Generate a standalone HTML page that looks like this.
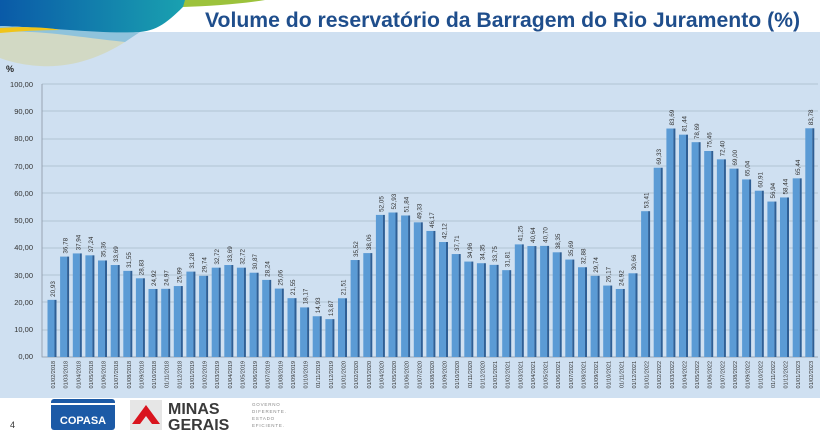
<!DOCTYPE html>
<html><head><meta charset="utf-8"><style>
html,body{margin:0;padding:0;width:825px;height:434px;overflow:hidden;background:#fff;font-family:"Liberation Sans",sans-serif}
</style></head><body>
<svg width="825" height="434" viewBox="0 0 825 434" xmlns="http://www.w3.org/2000/svg" font-family="Liberation Sans, sans-serif">
<defs>
<linearGradient id="wv" x1="0" x2="1" y1="0" y2="0"><stop offset="0" stop-color="#0a5aa8"/><stop offset="1" stop-color="#1aa3b0"/></linearGradient>
</defs>
<rect x="0" y="0" width="825" height="434" fill="#fff"/>
<rect x="0" y="32" width="820" height="366" fill="#cfe0f1"/>
<path d="M0,0 H190 C170,20 160,30 140,32 C100,36 60,28 0,26 Z" fill="url(#wv)"/>
<path d="M0,26 C60,28 100,34 140,32 L125,42 C90,44 50,36 0,32 Z" fill="#8fc3dc"/>
<path d="M0,32 C40,30 70,36 125,42 C100,58 70,68 40,66 C20,65 5,60 0,58 Z" fill="#d2d9c4"/>
<path d="M0,28 C30,26 50,28 60,30 C40,30 20,31 0,33 Z" fill="#f0c419"/>
<path d="M185,0 H265 C240,4 210,6 183,7 Z" fill="#9cc23c"/>
<text x="205" y="27" font-size="21.2" font-weight="bold" fill="#1f4e8c" textLength="595" lengthAdjust="spacingAndGlyphs">Volume do reservatório da Barragem do Rio Juramento (%)</text>
<text x="6" y="72" font-size="9" font-weight="bold" fill="#222">%</text>
<g font-size="7.5" fill="#333" text-anchor="end">
<text x="33" y="87">100,00</text><text x="33" y="114">90,00</text><text x="33" y="141">80,00</text><text x="33" y="169">70,00</text><text x="33" y="196">60,00</text><text x="33" y="223">50,00</text><text x="33" y="250">40,00</text><text x="33" y="278">30,00</text><text x="33" y="305">20,00</text><text x="33" y="332">10,00</text><text x="33" y="359">0,00</text>
</g>
<g stroke="#a9b9c9" stroke-width="0.8" fill="none">
<path d="M42,84H818M42,111H818M42,139H818M42,166H818M42,193H818M42,221H818M42,248H818M42,275H818M42,302H818M42,330H818"/>
<path d="M42,84V357H818" stroke="#8a97a5"/>
</g>
<g font-size="6.3" fill="#333">
<g transform="translate(47.5,357) scale(1,2.73)"><rect y="-20.93" width="7" height="20.93" fill="#5b9bd5"/><rect x="7" y="-20.93" width="2" height="20.93" fill="#2f5f95"/><g transform="translate(0,-20.93) scale(1,.3663)"><text transform="translate(7.5,-3) rotate(-90)">20,93</text></g><g transform="scale(1,.3663)"><text transform="translate(7.5,4) rotate(-90)" text-anchor="end" font-size="5.5">01/02/2018</text></g></g>
<g transform="translate(60.1,357) scale(1,2.73)"><rect y="-36.78" width="7" height="36.78" fill="#5b9bd5"/><rect x="7" y="-36.78" width="2" height="36.78" fill="#2f5f95"/><g transform="translate(0,-36.78) scale(1,.3663)"><text transform="translate(7.5,-3) rotate(-90)">36,78</text></g><g transform="scale(1,.3663)"><text transform="translate(7.5,4) rotate(-90)" text-anchor="end" font-size="5.5">01/03/2018</text></g></g>
<g transform="translate(72.8,357) scale(1,2.73)"><rect y="-37.94" width="7" height="37.94" fill="#5b9bd5"/><rect x="7" y="-37.94" width="2" height="37.94" fill="#2f5f95"/><g transform="translate(0,-37.94) scale(1,.3663)"><text transform="translate(7.5,-3) rotate(-90)">37,94</text></g><g transform="scale(1,.3663)"><text transform="translate(7.5,4) rotate(-90)" text-anchor="end" font-size="5.5">01/04/2018</text></g></g>
<g transform="translate(85.4,357) scale(1,2.73)"><rect y="-37.24" width="7" height="37.24" fill="#5b9bd5"/><rect x="7" y="-37.24" width="2" height="37.24" fill="#2f5f95"/><g transform="translate(0,-37.24) scale(1,.3663)"><text transform="translate(7.5,-3) rotate(-90)">37,24</text></g><g transform="scale(1,.3663)"><text transform="translate(7.5,4) rotate(-90)" text-anchor="end" font-size="5.5">01/05/2018</text></g></g>
<g transform="translate(98.0,357) scale(1,2.73)"><rect y="-35.36" width="7" height="35.36" fill="#5b9bd5"/><rect x="7" y="-35.36" width="2" height="35.36" fill="#2f5f95"/><g transform="translate(0,-35.36) scale(1,.3663)"><text transform="translate(7.5,-3) rotate(-90)">35,36</text></g><g transform="scale(1,.3663)"><text transform="translate(7.5,4) rotate(-90)" text-anchor="end" font-size="5.5">01/06/2018</text></g></g>
<g transform="translate(110.7,357) scale(1,2.73)"><rect y="-33.69" width="7" height="33.69" fill="#5b9bd5"/><rect x="7" y="-33.69" width="2" height="33.69" fill="#2f5f95"/><g transform="translate(0,-33.69) scale(1,.3663)"><text transform="translate(7.5,-3) rotate(-90)">33,69</text></g><g transform="scale(1,.3663)"><text transform="translate(7.5,4) rotate(-90)" text-anchor="end" font-size="5.5">01/07/2018</text></g></g>
<g transform="translate(123.3,357) scale(1,2.73)"><rect y="-31.55" width="7" height="31.55" fill="#5b9bd5"/><rect x="7" y="-31.55" width="2" height="31.55" fill="#2f5f95"/><g transform="translate(0,-31.55) scale(1,.3663)"><text transform="translate(7.5,-3) rotate(-90)">31,55</text></g><g transform="scale(1,.3663)"><text transform="translate(7.5,4) rotate(-90)" text-anchor="end" font-size="5.5">01/08/2018</text></g></g>
<g transform="translate(135.9,357) scale(1,2.73)"><rect y="-28.83" width="7" height="28.83" fill="#5b9bd5"/><rect x="7" y="-28.83" width="2" height="28.83" fill="#2f5f95"/><g transform="translate(0,-28.83) scale(1,.3663)"><text transform="translate(7.5,-3) rotate(-90)">28,83</text></g><g transform="scale(1,.3663)"><text transform="translate(7.5,4) rotate(-90)" text-anchor="end" font-size="5.5">01/09/2018</text></g></g>
<g transform="translate(148.5,357) scale(1,2.73)"><rect y="-24.92" width="7" height="24.92" fill="#5b9bd5"/><rect x="7" y="-24.92" width="2" height="24.92" fill="#2f5f95"/><g transform="translate(0,-24.92) scale(1,.3663)"><text transform="translate(7.5,-3) rotate(-90)">24,92</text></g><g transform="scale(1,.3663)"><text transform="translate(7.5,4) rotate(-90)" text-anchor="end" font-size="5.5">01/10/2018</text></g></g>
<g transform="translate(161.2,357) scale(1,2.73)"><rect y="-24.97" width="7" height="24.97" fill="#5b9bd5"/><rect x="7" y="-24.97" width="2" height="24.97" fill="#2f5f95"/><g transform="translate(0,-24.97) scale(1,.3663)"><text transform="translate(7.5,-3) rotate(-90)">24,97</text></g><g transform="scale(1,.3663)"><text transform="translate(7.5,4) rotate(-90)" text-anchor="end" font-size="5.5">01/11/2018</text></g></g>
<g transform="translate(173.8,357) scale(1,2.73)"><rect y="-25.99" width="7" height="25.99" fill="#5b9bd5"/><rect x="7" y="-25.99" width="2" height="25.99" fill="#2f5f95"/><g transform="translate(0,-25.99) scale(1,.3663)"><text transform="translate(7.5,-3) rotate(-90)">25,99</text></g><g transform="scale(1,.3663)"><text transform="translate(7.5,4) rotate(-90)" text-anchor="end" font-size="5.5">01/12/2018</text></g></g>
<g transform="translate(186.4,357) scale(1,2.73)"><rect y="-31.28" width="7" height="31.28" fill="#5b9bd5"/><rect x="7" y="-31.28" width="2" height="31.28" fill="#2f5f95"/><g transform="translate(0,-31.28) scale(1,.3663)"><text transform="translate(7.5,-3) rotate(-90)">31,28</text></g><g transform="scale(1,.3663)"><text transform="translate(7.5,4) rotate(-90)" text-anchor="end" font-size="5.5">01/01/2019</text></g></g>
<g transform="translate(199.1,357) scale(1,2.73)"><rect y="-29.74" width="7" height="29.74" fill="#5b9bd5"/><rect x="7" y="-29.74" width="2" height="29.74" fill="#2f5f95"/><g transform="translate(0,-29.74) scale(1,.3663)"><text transform="translate(7.5,-3) rotate(-90)">29,74</text></g><g transform="scale(1,.3663)"><text transform="translate(7.5,4) rotate(-90)" text-anchor="end" font-size="5.5">01/02/2019</text></g></g>
<g transform="translate(211.7,357) scale(1,2.73)"><rect y="-32.72" width="7" height="32.72" fill="#5b9bd5"/><rect x="7" y="-32.72" width="2" height="32.72" fill="#2f5f95"/><g transform="translate(0,-32.72) scale(1,.3663)"><text transform="translate(7.5,-3) rotate(-90)">32,72</text></g><g transform="scale(1,.3663)"><text transform="translate(7.5,4) rotate(-90)" text-anchor="end" font-size="5.5">01/03/2019</text></g></g>
<g transform="translate(224.3,357) scale(1,2.73)"><rect y="-33.69" width="7" height="33.69" fill="#5b9bd5"/><rect x="7" y="-33.69" width="2" height="33.69" fill="#2f5f95"/><g transform="translate(0,-33.69) scale(1,.3663)"><text transform="translate(7.5,-3) rotate(-90)">33,69</text></g><g transform="scale(1,.3663)"><text transform="translate(7.5,4) rotate(-90)" text-anchor="end" font-size="5.5">01/04/2019</text></g></g>
<g transform="translate(236.9,357) scale(1,2.73)"><rect y="-32.72" width="7" height="32.72" fill="#5b9bd5"/><rect x="7" y="-32.72" width="2" height="32.72" fill="#2f5f95"/><g transform="translate(0,-32.72) scale(1,.3663)"><text transform="translate(7.5,-3) rotate(-90)">32,72</text></g><g transform="scale(1,.3663)"><text transform="translate(7.5,4) rotate(-90)" text-anchor="end" font-size="5.5">01/05/2019</text></g></g>
<g transform="translate(249.6,357) scale(1,2.73)"><rect y="-30.87" width="7" height="30.87" fill="#5b9bd5"/><rect x="7" y="-30.87" width="2" height="30.87" fill="#2f5f95"/><g transform="translate(0,-30.87) scale(1,.3663)"><text transform="translate(7.5,-3) rotate(-90)">30,87</text></g><g transform="scale(1,.3663)"><text transform="translate(7.5,4) rotate(-90)" text-anchor="end" font-size="5.5">01/06/2019</text></g></g>
<g transform="translate(262.2,357) scale(1,2.73)"><rect y="-28.24" width="7" height="28.24" fill="#5b9bd5"/><rect x="7" y="-28.24" width="2" height="28.24" fill="#2f5f95"/><g transform="translate(0,-28.24) scale(1,.3663)"><text transform="translate(7.5,-3) rotate(-90)">28,24</text></g><g transform="scale(1,.3663)"><text transform="translate(7.5,4) rotate(-90)" text-anchor="end" font-size="5.5">01/07/2019</text></g></g>
<g transform="translate(274.8,357) scale(1,2.73)"><rect y="-25.06" width="7" height="25.06" fill="#5b9bd5"/><rect x="7" y="-25.06" width="2" height="25.06" fill="#2f5f95"/><g transform="translate(0,-25.06) scale(1,.3663)"><text transform="translate(7.5,-3) rotate(-90)">25,06</text></g><g transform="scale(1,.3663)"><text transform="translate(7.5,4) rotate(-90)" text-anchor="end" font-size="5.5">01/08/2019</text></g></g>
<g transform="translate(287.5,357) scale(1,2.73)"><rect y="-21.55" width="7" height="21.55" fill="#5b9bd5"/><rect x="7" y="-21.55" width="2" height="21.55" fill="#2f5f95"/><g transform="translate(0,-21.55) scale(1,.3663)"><text transform="translate(7.5,-3) rotate(-90)">21,55</text></g><g transform="scale(1,.3663)"><text transform="translate(7.5,4) rotate(-90)" text-anchor="end" font-size="5.5">01/09/2019</text></g></g>
<g transform="translate(300.1,357) scale(1,2.73)"><rect y="-18.17" width="7" height="18.17" fill="#5b9bd5"/><rect x="7" y="-18.17" width="2" height="18.17" fill="#2f5f95"/><g transform="translate(0,-18.17) scale(1,.3663)"><text transform="translate(7.5,-3) rotate(-90)">18,17</text></g><g transform="scale(1,.3663)"><text transform="translate(7.5,4) rotate(-90)" text-anchor="end" font-size="5.5">01/10/2019</text></g></g>
<g transform="translate(312.7,357) scale(1,2.73)"><rect y="-14.93" width="7" height="14.93" fill="#5b9bd5"/><rect x="7" y="-14.93" width="2" height="14.93" fill="#2f5f95"/><g transform="translate(0,-14.93) scale(1,.3663)"><text transform="translate(7.5,-3) rotate(-90)">14,93</text></g><g transform="scale(1,.3663)"><text transform="translate(7.5,4) rotate(-90)" text-anchor="end" font-size="5.5">01/11/2019</text></g></g>
<g transform="translate(325.4,357) scale(1,2.73)"><rect y="-13.87" width="7" height="13.87" fill="#5b9bd5"/><rect x="7" y="-13.87" width="2" height="13.87" fill="#2f5f95"/><g transform="translate(0,-13.87) scale(1,.3663)"><text transform="translate(7.5,-3) rotate(-90)">13,87</text></g><g transform="scale(1,.3663)"><text transform="translate(7.5,4) rotate(-90)" text-anchor="end" font-size="5.5">01/12/2019</text></g></g>
<g transform="translate(338.0,357) scale(1,2.73)"><rect y="-21.51" width="7" height="21.51" fill="#5b9bd5"/><rect x="7" y="-21.51" width="2" height="21.51" fill="#2f5f95"/><g transform="translate(0,-21.51) scale(1,.3663)"><text transform="translate(7.5,-3) rotate(-90)">21,51</text></g><g transform="scale(1,.3663)"><text transform="translate(7.5,4) rotate(-90)" text-anchor="end" font-size="5.5">01/01/2020</text></g></g>
<g transform="translate(350.6,357) scale(1,2.73)"><rect y="-35.52" width="7" height="35.52" fill="#5b9bd5"/><rect x="7" y="-35.52" width="2" height="35.52" fill="#2f5f95"/><g transform="translate(0,-35.52) scale(1,.3663)"><text transform="translate(7.5,-3) rotate(-90)">35,52</text></g><g transform="scale(1,.3663)"><text transform="translate(7.5,4) rotate(-90)" text-anchor="end" font-size="5.5">01/02/2020</text></g></g>
<g transform="translate(363.3,357) scale(1,2.73)"><rect y="-38.06" width="7" height="38.06" fill="#5b9bd5"/><rect x="7" y="-38.06" width="2" height="38.06" fill="#2f5f95"/><g transform="translate(0,-38.06) scale(1,.3663)"><text transform="translate(7.5,-3) rotate(-90)">38,06</text></g><g transform="scale(1,.3663)"><text transform="translate(7.5,4) rotate(-90)" text-anchor="end" font-size="5.5">01/03/2020</text></g></g>
<g transform="translate(375.9,357) scale(1,2.73)"><rect y="-52.05" width="7" height="52.05" fill="#5b9bd5"/><rect x="7" y="-52.05" width="2" height="52.05" fill="#2f5f95"/><g transform="translate(0,-52.05) scale(1,.3663)"><text transform="translate(7.5,-3) rotate(-90)">52,05</text></g><g transform="scale(1,.3663)"><text transform="translate(7.5,4) rotate(-90)" text-anchor="end" font-size="5.5">01/04/2020</text></g></g>
<g transform="translate(388.5,357) scale(1,2.73)"><rect y="-52.93" width="7" height="52.93" fill="#5b9bd5"/><rect x="7" y="-52.93" width="2" height="52.93" fill="#2f5f95"/><g transform="translate(0,-52.93) scale(1,.3663)"><text transform="translate(7.5,-3) rotate(-90)">52,93</text></g><g transform="scale(1,.3663)"><text transform="translate(7.5,4) rotate(-90)" text-anchor="end" font-size="5.5">01/05/2020</text></g></g>
<g transform="translate(401.1,357) scale(1,2.73)"><rect y="-51.84" width="7" height="51.84" fill="#5b9bd5"/><rect x="7" y="-51.84" width="2" height="51.84" fill="#2f5f95"/><g transform="translate(0,-51.84) scale(1,.3663)"><text transform="translate(7.5,-3) rotate(-90)">51,84</text></g><g transform="scale(1,.3663)"><text transform="translate(7.5,4) rotate(-90)" text-anchor="end" font-size="5.5">01/06/2020</text></g></g>
<g transform="translate(413.8,357) scale(1,2.73)"><rect y="-49.33" width="7" height="49.33" fill="#5b9bd5"/><rect x="7" y="-49.33" width="2" height="49.33" fill="#2f5f95"/><g transform="translate(0,-49.33) scale(1,.3663)"><text transform="translate(7.5,-3) rotate(-90)">49,33</text></g><g transform="scale(1,.3663)"><text transform="translate(7.5,4) rotate(-90)" text-anchor="end" font-size="5.5">01/07/2020</text></g></g>
<g transform="translate(426.4,357) scale(1,2.73)"><rect y="-46.17" width="7" height="46.17" fill="#5b9bd5"/><rect x="7" y="-46.17" width="2" height="46.17" fill="#2f5f95"/><g transform="translate(0,-46.17) scale(1,.3663)"><text transform="translate(7.5,-3) rotate(-90)">46,17</text></g><g transform="scale(1,.3663)"><text transform="translate(7.5,4) rotate(-90)" text-anchor="end" font-size="5.5">01/08/2020</text></g></g>
<g transform="translate(439.0,357) scale(1,2.73)"><rect y="-42.12" width="7" height="42.12" fill="#5b9bd5"/><rect x="7" y="-42.12" width="2" height="42.12" fill="#2f5f95"/><g transform="translate(0,-42.12) scale(1,.3663)"><text transform="translate(7.5,-3) rotate(-90)">42,12</text></g><g transform="scale(1,.3663)"><text transform="translate(7.5,4) rotate(-90)" text-anchor="end" font-size="5.5">01/09/2020</text></g></g>
<g transform="translate(451.7,357) scale(1,2.73)"><rect y="-37.71" width="7" height="37.71" fill="#5b9bd5"/><rect x="7" y="-37.71" width="2" height="37.71" fill="#2f5f95"/><g transform="translate(0,-37.71) scale(1,.3663)"><text transform="translate(7.5,-3) rotate(-90)">37,71</text></g><g transform="scale(1,.3663)"><text transform="translate(7.5,4) rotate(-90)" text-anchor="end" font-size="5.5">01/10/2020</text></g></g>
<g transform="translate(464.3,357) scale(1,2.73)"><rect y="-34.96" width="7" height="34.96" fill="#5b9bd5"/><rect x="7" y="-34.96" width="2" height="34.96" fill="#2f5f95"/><g transform="translate(0,-34.96) scale(1,.3663)"><text transform="translate(7.5,-3) rotate(-90)">34,96</text></g><g transform="scale(1,.3663)"><text transform="translate(7.5,4) rotate(-90)" text-anchor="end" font-size="5.5">01/11/2020</text></g></g>
<g transform="translate(476.9,357) scale(1,2.73)"><rect y="-34.35" width="7" height="34.35" fill="#5b9bd5"/><rect x="7" y="-34.35" width="2" height="34.35" fill="#2f5f95"/><g transform="translate(0,-34.35) scale(1,.3663)"><text transform="translate(7.5,-3) rotate(-90)">34,35</text></g><g transform="scale(1,.3663)"><text transform="translate(7.5,4) rotate(-90)" text-anchor="end" font-size="5.5">01/12/2020</text></g></g>
<g transform="translate(489.6,357) scale(1,2.73)"><rect y="-33.75" width="7" height="33.75" fill="#5b9bd5"/><rect x="7" y="-33.75" width="2" height="33.75" fill="#2f5f95"/><g transform="translate(0,-33.75) scale(1,.3663)"><text transform="translate(7.5,-3) rotate(-90)">33,75</text></g><g transform="scale(1,.3663)"><text transform="translate(7.5,4) rotate(-90)" text-anchor="end" font-size="5.5">01/01/2021</text></g></g>
<g transform="translate(502.2,357) scale(1,2.73)"><rect y="-31.81" width="7" height="31.81" fill="#5b9bd5"/><rect x="7" y="-31.81" width="2" height="31.81" fill="#2f5f95"/><g transform="translate(0,-31.81) scale(1,.3663)"><text transform="translate(7.5,-3) rotate(-90)">31,81</text></g><g transform="scale(1,.3663)"><text transform="translate(7.5,4) rotate(-90)" text-anchor="end" font-size="5.5">01/02/2021</text></g></g>
<g transform="translate(514.8,357) scale(1,2.73)"><rect y="-41.25" width="7" height="41.25" fill="#5b9bd5"/><rect x="7" y="-41.25" width="2" height="41.25" fill="#2f5f95"/><g transform="translate(0,-41.25) scale(1,.3663)"><text transform="translate(7.5,-3) rotate(-90)">41,25</text></g><g transform="scale(1,.3663)"><text transform="translate(7.5,4) rotate(-90)" text-anchor="end" font-size="5.5">01/03/2021</text></g></g>
<g transform="translate(527.4,357) scale(1,2.73)"><rect y="-40.64" width="7" height="40.64" fill="#5b9bd5"/><rect x="7" y="-40.64" width="2" height="40.64" fill="#2f5f95"/><g transform="translate(0,-40.64) scale(1,.3663)"><text transform="translate(7.5,-3) rotate(-90)">40,64</text></g><g transform="scale(1,.3663)"><text transform="translate(7.5,4) rotate(-90)" text-anchor="end" font-size="5.5">01/04/2021</text></g></g>
<g transform="translate(540.1,357) scale(1,2.73)"><rect y="-40.70" width="7" height="40.70" fill="#5b9bd5"/><rect x="7" y="-40.70" width="2" height="40.70" fill="#2f5f95"/><g transform="translate(0,-40.70) scale(1,.3663)"><text transform="translate(7.5,-3) rotate(-90)">40,70</text></g><g transform="scale(1,.3663)"><text transform="translate(7.5,4) rotate(-90)" text-anchor="end" font-size="5.5">01/05/2021</text></g></g>
<g transform="translate(552.7,357) scale(1,2.73)"><rect y="-38.35" width="7" height="38.35" fill="#5b9bd5"/><rect x="7" y="-38.35" width="2" height="38.35" fill="#2f5f95"/><g transform="translate(0,-38.35) scale(1,.3663)"><text transform="translate(7.5,-3) rotate(-90)">38,35</text></g><g transform="scale(1,.3663)"><text transform="translate(7.5,4) rotate(-90)" text-anchor="end" font-size="5.5">01/06/2021</text></g></g>
<g transform="translate(565.3,357) scale(1,2.73)"><rect y="-35.69" width="7" height="35.69" fill="#5b9bd5"/><rect x="7" y="-35.69" width="2" height="35.69" fill="#2f5f95"/><g transform="translate(0,-35.69) scale(1,.3663)"><text transform="translate(7.5,-3) rotate(-90)">35,69</text></g><g transform="scale(1,.3663)"><text transform="translate(7.5,4) rotate(-90)" text-anchor="end" font-size="5.5">01/07/2021</text></g></g>
<g transform="translate(578.0,357) scale(1,2.73)"><rect y="-32.88" width="7" height="32.88" fill="#5b9bd5"/><rect x="7" y="-32.88" width="2" height="32.88" fill="#2f5f95"/><g transform="translate(0,-32.88) scale(1,.3663)"><text transform="translate(7.5,-3) rotate(-90)">32,88</text></g><g transform="scale(1,.3663)"><text transform="translate(7.5,4) rotate(-90)" text-anchor="end" font-size="5.5">01/08/2021</text></g></g>
<g transform="translate(590.6,357) scale(1,2.73)"><rect y="-29.74" width="7" height="29.74" fill="#5b9bd5"/><rect x="7" y="-29.74" width="2" height="29.74" fill="#2f5f95"/><g transform="translate(0,-29.74) scale(1,.3663)"><text transform="translate(7.5,-3) rotate(-90)">29,74</text></g><g transform="scale(1,.3663)"><text transform="translate(7.5,4) rotate(-90)" text-anchor="end" font-size="5.5">01/09/2021</text></g></g>
<g transform="translate(603.2,357) scale(1,2.73)"><rect y="-26.17" width="7" height="26.17" fill="#5b9bd5"/><rect x="7" y="-26.17" width="2" height="26.17" fill="#2f5f95"/><g transform="translate(0,-26.17) scale(1,.3663)"><text transform="translate(7.5,-3) rotate(-90)">26,17</text></g><g transform="scale(1,.3663)"><text transform="translate(7.5,4) rotate(-90)" text-anchor="end" font-size="5.5">01/10/2021</text></g></g>
<g transform="translate(615.8,357) scale(1,2.73)"><rect y="-24.92" width="7" height="24.92" fill="#5b9bd5"/><rect x="7" y="-24.92" width="2" height="24.92" fill="#2f5f95"/><g transform="translate(0,-24.92) scale(1,.3663)"><text transform="translate(7.5,-3) rotate(-90)">24,92</text></g><g transform="scale(1,.3663)"><text transform="translate(7.5,4) rotate(-90)" text-anchor="end" font-size="5.5">01/11/2021</text></g></g>
<g transform="translate(628.5,357) scale(1,2.73)"><rect y="-30.66" width="7" height="30.66" fill="#5b9bd5"/><rect x="7" y="-30.66" width="2" height="30.66" fill="#2f5f95"/><g transform="translate(0,-30.66) scale(1,.3663)"><text transform="translate(7.5,-3) rotate(-90)">30,66</text></g><g transform="scale(1,.3663)"><text transform="translate(7.5,4) rotate(-90)" text-anchor="end" font-size="5.5">01/12/2021</text></g></g>
<g transform="translate(641.1,357) scale(1,2.73)"><rect y="-53.41" width="7" height="53.41" fill="#5b9bd5"/><rect x="7" y="-53.41" width="2" height="53.41" fill="#2f5f95"/><g transform="translate(0,-53.41) scale(1,.3663)"><text transform="translate(7.5,-3) rotate(-90)">53,41</text></g><g transform="scale(1,.3663)"><text transform="translate(7.5,4) rotate(-90)" text-anchor="end" font-size="5.5">01/01/2022</text></g></g>
<g transform="translate(653.7,357) scale(1,2.73)"><rect y="-69.33" width="7" height="69.33" fill="#5b9bd5"/><rect x="7" y="-69.33" width="2" height="69.33" fill="#2f5f95"/><g transform="translate(0,-69.33) scale(1,.3663)"><text transform="translate(7.5,-3) rotate(-90)">69,33</text></g><g transform="scale(1,.3663)"><text transform="translate(7.5,4) rotate(-90)" text-anchor="end" font-size="5.5">01/02/2022</text></g></g>
<g transform="translate(666.4,357) scale(1,2.73)"><rect y="-83.69" width="7" height="83.69" fill="#5b9bd5"/><rect x="7" y="-83.69" width="2" height="83.69" fill="#2f5f95"/><g transform="translate(0,-83.69) scale(1,.3663)"><text transform="translate(7.5,-3) rotate(-90)">83,69</text></g><g transform="scale(1,.3663)"><text transform="translate(7.5,4) rotate(-90)" text-anchor="end" font-size="5.5">01/03/2022</text></g></g>
<g transform="translate(679.0,357) scale(1,2.73)"><rect y="-81.44" width="7" height="81.44" fill="#5b9bd5"/><rect x="7" y="-81.44" width="2" height="81.44" fill="#2f5f95"/><g transform="translate(0,-81.44) scale(1,.3663)"><text transform="translate(7.5,-3) rotate(-90)">81,44</text></g><g transform="scale(1,.3663)"><text transform="translate(7.5,4) rotate(-90)" text-anchor="end" font-size="5.5">01/04/2022</text></g></g>
<g transform="translate(691.6,357) scale(1,2.73)"><rect y="-78.69" width="7" height="78.69" fill="#5b9bd5"/><rect x="7" y="-78.69" width="2" height="78.69" fill="#2f5f95"/><g transform="translate(0,-78.69) scale(1,.3663)"><text transform="translate(7.5,-3) rotate(-90)">78,69</text></g><g transform="scale(1,.3663)"><text transform="translate(7.5,4) rotate(-90)" text-anchor="end" font-size="5.5">01/05/2022</text></g></g>
<g transform="translate(704.2,357) scale(1,2.73)"><rect y="-75.46" width="7" height="75.46" fill="#5b9bd5"/><rect x="7" y="-75.46" width="2" height="75.46" fill="#2f5f95"/><g transform="translate(0,-75.46) scale(1,.3663)"><text transform="translate(7.5,-3) rotate(-90)">75,46</text></g><g transform="scale(1,.3663)"><text transform="translate(7.5,4) rotate(-90)" text-anchor="end" font-size="5.5">01/06/2022</text></g></g>
<g transform="translate(716.9,357) scale(1,2.73)"><rect y="-72.40" width="7" height="72.40" fill="#5b9bd5"/><rect x="7" y="-72.40" width="2" height="72.40" fill="#2f5f95"/><g transform="translate(0,-72.40) scale(1,.3663)"><text transform="translate(7.5,-3) rotate(-90)">72,40</text></g><g transform="scale(1,.3663)"><text transform="translate(7.5,4) rotate(-90)" text-anchor="end" font-size="5.5">01/07/2022</text></g></g>
<g transform="translate(729.5,357) scale(1,2.73)"><rect y="-69.00" width="7" height="69.00" fill="#5b9bd5"/><rect x="7" y="-69.00" width="2" height="69.00" fill="#2f5f95"/><g transform="translate(0,-69.00) scale(1,.3663)"><text transform="translate(7.5,-3) rotate(-90)">69,00</text></g><g transform="scale(1,.3663)"><text transform="translate(7.5,4) rotate(-90)" text-anchor="end" font-size="5.5">01/08/2022</text></g></g>
<g transform="translate(742.1,357) scale(1,2.73)"><rect y="-65.04" width="7" height="65.04" fill="#5b9bd5"/><rect x="7" y="-65.04" width="2" height="65.04" fill="#2f5f95"/><g transform="translate(0,-65.04) scale(1,.3663)"><text transform="translate(7.5,-3) rotate(-90)">65,04</text></g><g transform="scale(1,.3663)"><text transform="translate(7.5,4) rotate(-90)" text-anchor="end" font-size="5.5">01/09/2022</text></g></g>
<g transform="translate(754.8,357) scale(1,2.73)"><rect y="-60.91" width="7" height="60.91" fill="#5b9bd5"/><rect x="7" y="-60.91" width="2" height="60.91" fill="#2f5f95"/><g transform="translate(0,-60.91) scale(1,.3663)"><text transform="translate(7.5,-3) rotate(-90)">60,91</text></g><g transform="scale(1,.3663)"><text transform="translate(7.5,4) rotate(-90)" text-anchor="end" font-size="5.5">01/10/2022</text></g></g>
<g transform="translate(767.4,357) scale(1,2.73)"><rect y="-56.94" width="7" height="56.94" fill="#5b9bd5"/><rect x="7" y="-56.94" width="2" height="56.94" fill="#2f5f95"/><g transform="translate(0,-56.94) scale(1,.3663)"><text transform="translate(7.5,-3) rotate(-90)">56,94</text></g><g transform="scale(1,.3663)"><text transform="translate(7.5,4) rotate(-90)" text-anchor="end" font-size="5.5">01/11/2022</text></g></g>
<g transform="translate(780.0,357) scale(1,2.73)"><rect y="-58.44" width="7" height="58.44" fill="#5b9bd5"/><rect x="7" y="-58.44" width="2" height="58.44" fill="#2f5f95"/><g transform="translate(0,-58.44) scale(1,.3663)"><text transform="translate(7.5,-3) rotate(-90)">58,44</text></g><g transform="scale(1,.3663)"><text transform="translate(7.5,4) rotate(-90)" text-anchor="end" font-size="5.5">01/12/2022</text></g></g>
<g transform="translate(792.7,357) scale(1,2.73)"><rect y="-65.44" width="7" height="65.44" fill="#5b9bd5"/><rect x="7" y="-65.44" width="2" height="65.44" fill="#2f5f95"/><g transform="translate(0,-65.44) scale(1,.3663)"><text transform="translate(7.5,-3) rotate(-90)">65,44</text></g><g transform="scale(1,.3663)"><text transform="translate(7.5,4) rotate(-90)" text-anchor="end" font-size="5.5">01/01/2023</text></g></g>
<g transform="translate(805.3,357) scale(1,2.73)"><rect y="-83.78" width="7" height="83.78" fill="#5b9bd5"/><rect x="7" y="-83.78" width="2" height="83.78" fill="#2f5f95"/><g transform="translate(0,-83.78) scale(1,.3663)"><text transform="translate(7.5,-3) rotate(-90)">83,78</text></g><g transform="scale(1,.3663)"><text transform="translate(7.5,4) rotate(-90)" text-anchor="end" font-size="5.5">01/02/2023</text></g></g>
</g>
<text x="10" y="428" font-size="9" fill="#333">4</text>
<rect x="51" y="399" width="64" height="31" rx="3" fill="#1c5aa6"/>
<rect x="51" y="403" width="64" height="2" fill="#fff"/>
<text x="83" y="424" font-size="11" font-weight="bold" fill="#fff" text-anchor="middle">COPASA</text>
<rect x="130" y="400" width="32" height="30" fill="#e6e6e6"/>
<path d="M146,405 L160,424 L152,424 L146,416 L140,424 L132,424 Z" fill="#d9141e"/>
<text x="168" y="414" font-size="16" font-weight="bold" fill="#3a3a3a">MINAS</text>
<text x="168" y="430" font-size="16" font-weight="bold" fill="#3a3a3a">GERAIS</text>
<g font-size="4.5" fill="#888" letter-spacing="0.8"><text x="252" y="406">GOVERNO</text><text x="252" y="413">DIFERENTE.</text><text x="252" y="420">ESTADO</text><text x="252" y="427">EFICIENTE.</text></g>
</svg>
</body></html>
